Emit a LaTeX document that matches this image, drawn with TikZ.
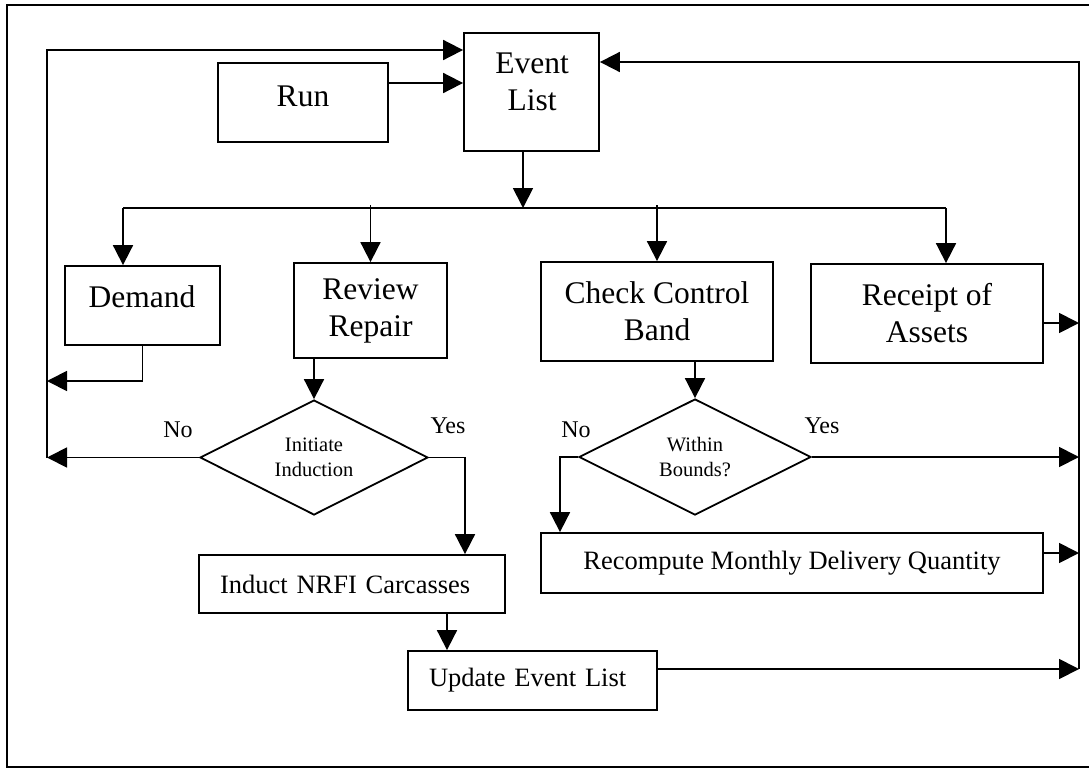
\documentclass[tikz,border=0pt]{standalone}
\usepackage{fontspec}
\setmainfont{Liberation Serif}
\usetikzlibrary{arrows.meta,shapes.geometric}
\begin{document}
\begin{tikzpicture}[x=1pt,y=-1pt,
  box/.style={draw,line width=1.8pt,rectangle,inner sep=0pt,align=center},
  big/.style={font=\fontsize{31.5}{37}\selectfont,align=center,inner sep=0pt},
  mid/.style={font=\fontsize{26.5}{31}\selectfont},
  dec/.style={draw,diamond,aspect=2,inner sep=0pt,line width=1.8pt,font=\fontsize{20.5}{25}\selectfont,align=center},
  yn/.style={font=\fontsize{24}{28}\selectfont,inner sep=0pt},
  con/.style={line width=1.8pt},
  arr/.style={con,-{Triangle[length=20pt,width=20pt]}}]
\useasboundingbox (0,0) rectangle (1089,769);
% outer frame
\draw[con] (1089,5) -- (7,5) -- (7,767) -- (1089,767);

% boxes
\node[box,minimum width=170pt,minimum height=79pt] (run) at (303,102.5) {};
\node[big] (runt) at (303,96.5) {Run};
\node[box,minimum width=135pt,minimum height=118pt] (ev) at (531.5,92) {};
\node[big] (evt) at (532,82) {Event\\List};
\node[box,minimum width=155pt,minimum height=79pt] (dem) at (142.5,305.5) {};
\node[big] (demt) at (142,297) {Demand};
\node[box,big,minimum width=153pt,minimum height=95pt] (rev) at (370.5,310.5) {Review\\Repair};
\node[box,big,minimum width=232pt,minimum height=99pt] (chk) at (657,311.5) {Check Control\\Band};
\node[box,big,minimum width=232pt,minimum height=99pt] (rec) at (927,313.5) {Receipt of\\Assets};
\node[dec,minimum width=228pt,minimum height=115pt] (d1) at (314,457.5) {Initiate\\Induction};
\node[dec,minimum width=232pt,minimum height=116pt] (d2) at (695,457) {Within\\Bounds?};
\node[box,mid,text width=264pt,align=left,inner xsep=21pt,minimum height=58pt] (ind) at (352,584) {Induct NRFI Carcasses};
\node[box,mid,text width=207pt,align=left,inner xsep=21pt,minimum height=59pt] (upd) at (532.5,680.5) {Update Event List};
\node[box,mid,minimum width=502pt,minimum height=60pt] (rcm) at (792,563) {Recompute Monthly Delivery Quantity};

% labels
\node[yn] (no1) at (178,430) {No};
\node[yn] (yes1) at (448,426) {Yes};
\node[yn] (no2) at (576,430) {No};
\node[yn] (yes2) at (822,426) {Yes};

% helper coordinates
\coordinate (Lt) at (47,50);
\coordinate (Lb) at (47,458);
\coordinate (Rt) at (1079,62);
\coordinate (Rb) at (1079,669);
\coordinate (bL) at (123,208);
\coordinate (bR) at (946,208);
\coordinate (bT) at (0,205);
\coordinate (ex) at (523,0);
\coordinate (ry) at (0,83);
\coordinate (dy) at (0,381);
\coordinate (yx) at (465,0);
\coordinate (ix) at (447,0);
\coordinate (nx) at (560,0);
\coordinate (ra) at (0,323);
\coordinate (rb) at (0,553);

% connectors
\draw[arr] (Lb) -- (Lt) -- (Lt -| ev.west);
\draw[arr] (run.east |- ry) -- (ev.west |- ry);
\draw[arr] (Rb) -- (Rt) -- (ev.east |- Rt);
\draw[arr] (ev.south -| ex) -- (ex |- bL);
\draw[con] (bL) -- (bR);
\draw[arr] (bL) -- (dem.north -| bL);
\draw[arr] (rev.north |- bT) -- (rev.north);
\draw[arr] (chk.north |- bT) -- (chk.north);
\draw[arr] (bR) -- (rec.north -| bR);
\draw[arr] (dem.south) -- (dem.south |- dy) -- (Lt |- dy);
\draw[arr] (rev.south -| d1.north) -- (d1.north);
\draw[arr] (d1.west) -- (d1.west -| Lt);
\draw[arr] (d1.east) -| (yx |- ind.north);
\draw[arr] (ind.south -| ix) -- (upd.north -| ix);
\draw[arr] (chk.south -| d2.north) -- (d2.north);
\draw[arr] (d2.west) -| (nx |- rcm.north);
\draw[arr] (d2.east) -- (d2.east -| Rt);
\draw[arr] (rec.east |- ra) -- (Rt |- ra);
\draw[arr] (rcm.east |- rb) -- (Rt |- rb);
\draw[arr] (upd.east |- Rb) -- (Rb);
\end{tikzpicture}
\end{document}
